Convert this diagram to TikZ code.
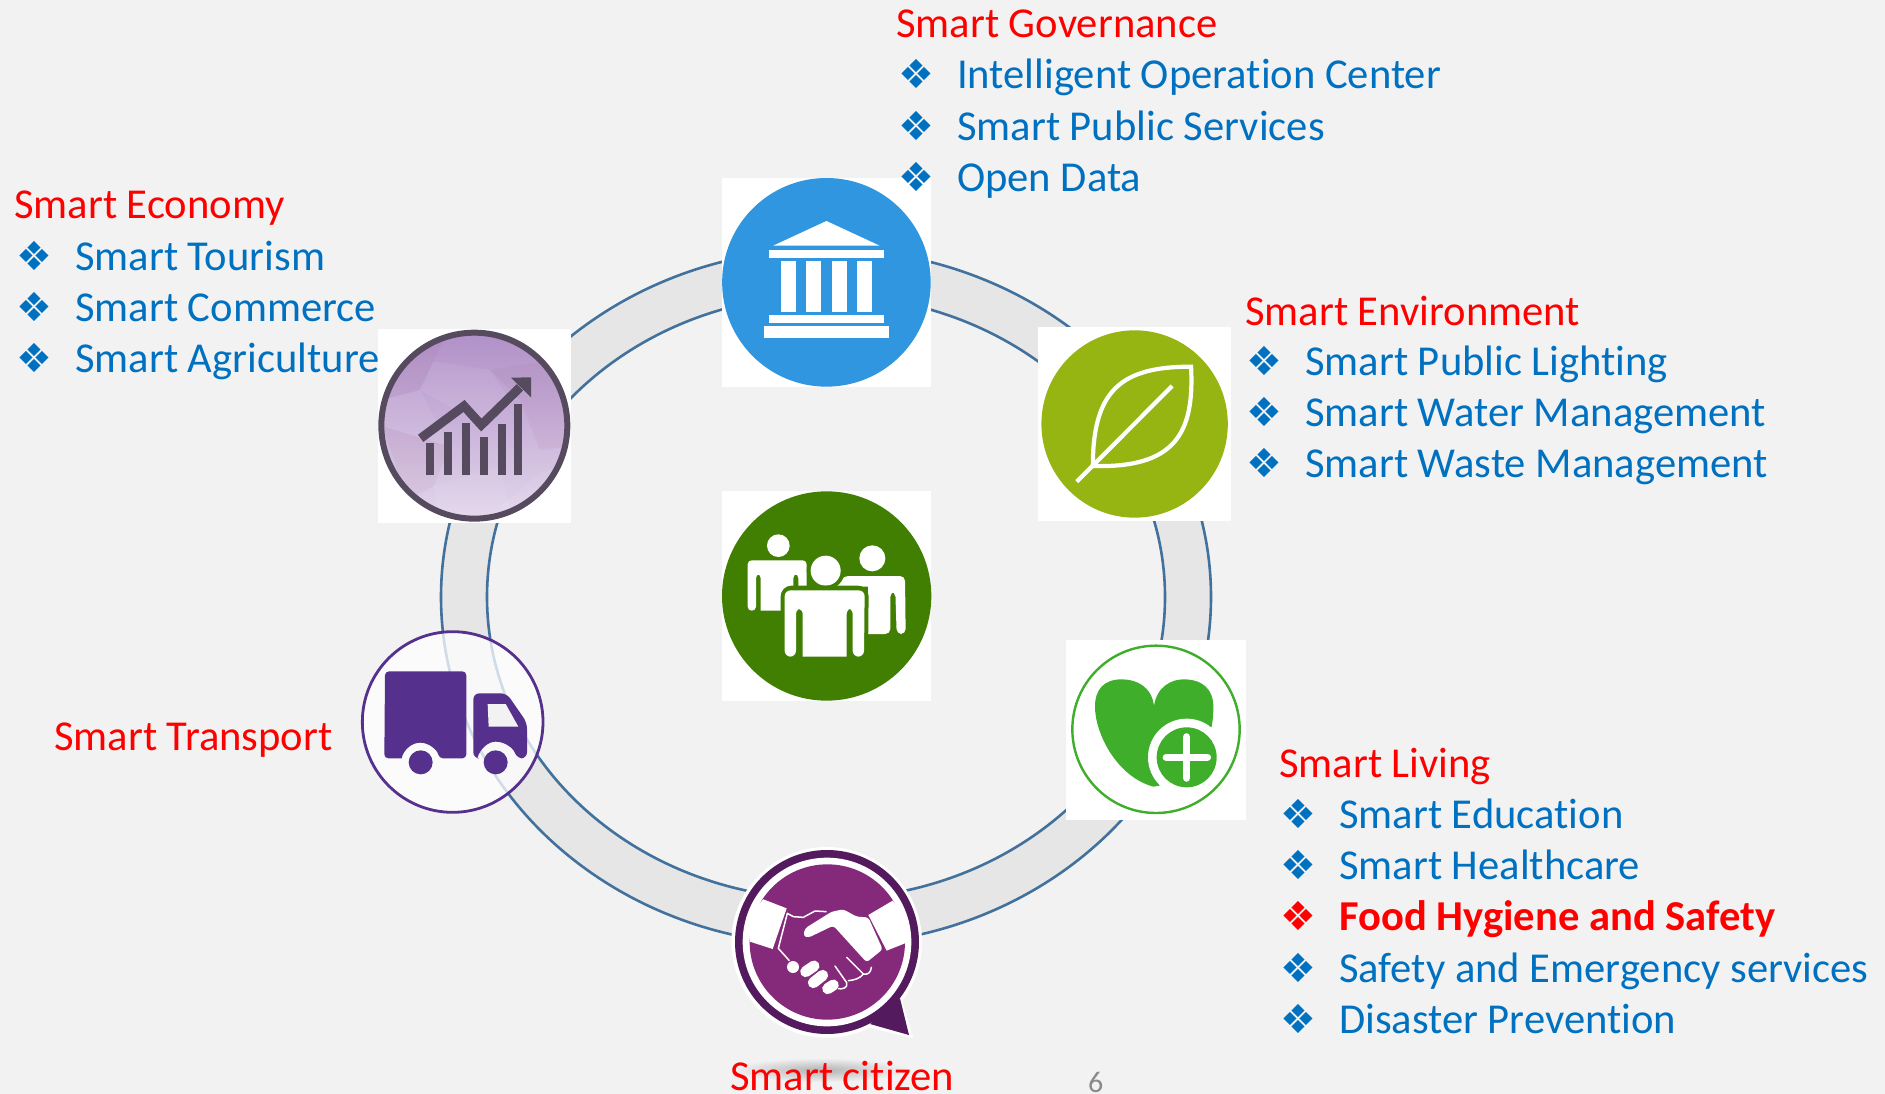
\documentclass[tikz,border=0pt]{standalone}
\usepackage{fontspec}
\setmainfont{Carlito}[Ligatures=NoCommon]
\newfontfamily\bulletfont{DejaVu Sans}
\usetikzlibrary{shadings}
\definecolor{pagebg}{HTML}{F2F2F2}
\definecolor{ringfill}{HTML}{E6E6E6}
\definecolor{ringline}{HTML}{41719C}
\definecolor{txtblue}{HTML}{0070C0}
\definecolor{txtred}{HTML}{FF0000}
\definecolor{bankblue}{HTML}{2F96DF}
\definecolor{leafgreen}{HTML}{96B513}
\definecolor{peoplegreen}{HTML}{417F03}
\definecolor{healthgreen}{HTML}{3FAE2A}
\definecolor{truckpurple}{HTML}{55308D}
\definecolor{citizendark}{HTML}{541A5E}
\definecolor{citizenpurple}{HTML}{852A7A}
\definecolor{chartdark}{HTML}{564A5F}
\definecolor{charttop}{HTML}{B08FC8}
\definecolor{chartbottom}{HTML}{E4D8EC}
\tikzset{
  x=1pt,y=-1pt,
  title/.style={anchor=base west,inner sep=0pt,text=txtred,font=\fontsize{42.6}{50}\selectfont},
  entry/.style={anchor=base west,inner sep=0pt,text=txtblue,font=\fontsize{42.6}{50}\selectfont},
  hot/.style={anchor=base west,inner sep=0pt,text=txtred,font=\fontsize{42.6}{50}\selectfont\bfseries},
  bul/.style={anchor=base west,inner sep=0pt,text=txtblue,font=\bulletfont\fontsize{40}{48}\selectfont},
  hotbul/.style={bul,text=txtred},
  ringedge/.style={draw=ringline,line width=2.6pt},
  facet/.style={fill=white,fill opacity=.07},
  facetd/.style={fill=chartdark!60!purple,fill opacity=.05},
}
\newcommand{\listline}[5]{% name, bullet x, text x, baseline y, text
  \node[bul] (#1b) at (#2,#4) {❖};
  \node[entry] (#1) at (#3,#4) {#5};
}
\begin{document}
\begin{tikzpicture}
\useasboundingbox (0,0) rectangle (1885,1094);
\fill[pagebg] (0,0) rectangle (1885,1094);

% ring
\fill[ringfill,even odd rule] (826,597) ellipse [x radius=385,y radius=348] (826,597) ellipse [x radius=339,y radius=302];
\draw[ringedge] (826,597) ellipse [x radius=385,y radius=348];
\draw[ringedge] (826,597) ellipse [x radius=339,y radius=302];

% governance icon
\begin{scope}[shift={(700,160)},xscale=1/2.8,yscale=1/3]
  \fill[white] (62,54) rectangle (647,680);
  \fill[bankblue] (354,367) ellipse [x radius=292,y radius=313];
  \fill[white] (205,257) -- (354,183) -- (503,257) -- cycle;
  \fill[white] (194,270) rectangle (514,295);
  \foreach \c in {228,298,369,440} \fill[white] (\c,303) rectangle (\c+42,455);
  \fill[white] (194,465) rectangle (514,489);
  \fill[white] (178,497) rectangle (530,535);
  % environment icon
  \fill[white] (946,501) rectangle (1487,1082);
  \fill[leafgreen] (1217,792) ellipse [x radius=261,y radius=281];
  \draw[white,line width=4.2pt,line join=miter] (1375,620) .. controls (1180,620) and (1100,690) .. (1100,918) .. controls (1330,925) and (1385,820) .. (1375,620) -- cycle;
  \draw[white,line width=4.2pt] (1055,965) -- (1322,678);
\end{scope}

% economy icon
\begin{scope}[shift={(340,300)},scale=1/3]
  \fill[white] (114,86) rectangle (693,668);
  \begin{scope}
    \clip (403,377) circle [radius=285];
    \shade[top color=charttop,bottom color=chartbottom] (100,90) rectangle (700,670);
    \fill[facet] (280,185) -- (450,210) -- (510,300) -- (420,370) -- (240,270) -- cycle;
    \fill[facetd] (130,150) -- (320,100) -- (280,185) -- (240,270) -- (130,300) -- cycle;
    \fill[facetd] (450,210) -- (640,180) -- (690,300) -- (540,300) -- cycle;
    \fill[facet] (240,270) -- (330,440) -- (130,380) -- (120,300) -- cycle;
    \fill[facetd] (540,300) -- (690,300) -- (680,440) -- (600,450) -- cycle;
    \fill[facet] (280,560) -- (480,500) -- (520,660) -- (300,670) -- cycle;
    \fill[facet] (480,620) -- (600,520) -- (660,500) -- (600,660) -- cycle;
    \fill[facetd] (130,380) -- (330,440) -- (280,560) -- (200,600) -- cycle;
  \end{scope}
  \draw[chartdark,line width=6pt] (403,377) circle [radius=279];
  \fill[chartdark] (257,428) rectangle (281,525);
  \fill[chartdark] (311,397) rectangle (335,525);
  \fill[chartdark] (366,368) rectangle (390,525);
  \fill[chartdark] (421,412) rectangle (445,525);
  \fill[chartdark] (475,373) rectangle (499,525);
  \fill[chartdark] (521,311) rectangle (545,525);
  \draw[chartdark,line width=9pt,line join=miter] (242,415) -- (372,318) -- (424,375) -- (540,262);
  \fill[chartdark] (513,233) -- (573,232) -- (573,292) -- cycle;
\end{scope}

% transport icon
\begin{scope}[shift={(340,610)},scale=1/3]
  \fill[white,fill opacity=.75] (338,336) circle [radius=272];
  \draw[truckpurple,line width=2.8pt] (338,336) circle [radius=271];
  \fill[truckpurple,rounded corners=4pt] (185,445) -- (133,445) -- (135,184) -- (379,184) -- (379,445) -- (297,445) [sharp corners] .. controls (292,420) and (267,398) .. (241,398) .. controls (215,398) and (190,420) .. (185,445) -- cycle;
  \fill[truckpurple] (242,457) circle [radius=36];
  \fill[truckpurple,rounded corners=6pt] (412,445) -- (400,445) -- (400,250) -- (500,250) -- (561,338) -- (561,445) -- (530,445) [sharp corners] .. controls (520,415) and (495,395) .. (467,395) .. controls (445,395) and (420,415) .. (412,445) -- cycle;
  \fill[pagebg] (443,282) -- (497,282) -- (535,350) -- (446,350) -- cycle;
  \fill[truckpurple] (467,457) circle [radius=36];
\end{scope}

% citizen icon
\begin{scope}[shift={(700,830)},scale=1/3]
  \fill[white] (380,337) circle [radius=286];
  \fill[white] (600,490) -- (640,625) -- (500,590) -- cycle;
  \fill[citizendark] (381,336) circle [radius=276];
  \fill[citizendark] (600,505) -- (627,615) -- (510,582) -- cycle;
  \fill[white] (381,336) circle [radius=253];
  \fill[citizenpurple] (382,336) circle [radius=233];
  \fill[white] (190,208) -- (260,235) -- (218,357) -- (150,335) -- (140,260) -- cycle;
  \fill[white] (505,255) -- (578,212) -- (625,270) -- (615,340) -- (560,362) -- cycle;
  \fill[white,rounded corners=3pt] (310,318) -- (315,295) -- (395,245) -- (430,238) -- (470,260) -- (505,262) -- (548,358) -- (500,397) -- (400,287) -- (325,323) -- cycle;
  \draw[white,line width=1.5pt,line join=round] (380,245) -- (345,243) -- (310,262) -- (280,260) -- (262,250) -- (235,355) -- (268,392);
  \fill[white] (279,411) circle [radius=18];
  \draw[white,line width=11pt,line cap=round] (317,425) -- (342,408);
  \draw[white,line width=11pt,line cap=round] (340,458) -- (368,436);
  \draw[white,line width=11pt,line cap=round] (383,476) -- (400,465);
  \draw[white,line width=1.5pt,line join=round,line cap=round] (405,408) -- (440,458) .. controls (445,475) and (425,478) .. (415,476);
  \draw[white,line width=1.5pt,line join=round,line cap=round] (440,382) -- (490,432) .. controls (480,445) and (465,450) .. (445,452);
  \draw[white,line width=1.5pt,line cap=round] (490,432) .. controls (505,436) and (513,425) .. (514,412);
\end{scope}

% living icon
\begin{scope}[shift={(1040,620)},scale=1/3]
  \fill[white] (78,60) rectangle (618,600);
  \draw[healthgreen,line width=2.4pt] (348,328) circle [radius=251];
  \fill[healthgreen] (342,258) .. controls (335,200) and (290,178) .. (245,178) .. controls (190,178) and (165,210) .. (165,260) .. controls (165,340) and (230,470) .. (340,500) -- (358,497) -- (515,320) .. controls (520,290) and (520,275) .. (520,260) .. controls (520,210) and (490,178) .. (430,178) .. controls (395,178) and (350,200) .. (342,258) -- cycle;
  \fill[white] (440,412) circle [radius=116];
  \fill[healthgreen] (440,412) circle [radius=90];
  \draw[white,line width=7.6pt,line cap=round] (379,412) -- (502,412);
  \draw[white,line width=7.6pt,line cap=round] (440,351) -- (440,474);
\end{scope}

% central people icon
\begin{scope}[shift={(710,480)},scale=1/3]
  \fill[white] (36,33) rectangle (663,663);
  \fill[peoplegreen] (350,348) circle [radius=314];
  \fill[white] (205,197) circle [radius=34];
  \fill[white,rounded corners=4pt] (152,392) [rounded corners=4pt] -- (152,282) -- (138,282) -- (138,392) -- (113,392) -- (113,241) -- (290,241) -- (290,392) -- (265,392) -- (265,282) -- (250,282) -- (250,392) [sharp corners] -- cycle;
  \fill[white] (487,235) circle [radius=39];
  \fill[white,rounded corners=4pt] (380,320) [rounded corners=5pt] -- (400,288) -- (585,288) -- (587,462) -- (560,462) -- (556,335) -- (541,335) -- (541,462) [sharp corners] -- (474,462) -- (474,320) -- cycle;
  \fill[peoplegreen] (347,272) circle [radius=57];
  \fill[white] (347,272) circle [radius=45];
  \draw[peoplegreen,line width=8pt,rounded corners=7pt] (224,531) -- (224,329) -- (464,329) -- (462,531);
  \fill[white,rounded corners=6pt] (278,530) -- (278,384) -- (258,384) -- (258,530) -- (224,530) -- (224,331) -- (464,331) -- (462,530) -- (428,530) -- (428,384) -- (410,384) [sharp corners] -- (410,530) -- cycle;
\end{scope}

% shadow under citizen label
\shade[inner color=black!30,outer color=pagebg] (820,1070) ellipse [x radius=88,y radius=12];

% labels
\node[title] (gov) at (896,38) {Smart Governance};
\listline{g1}{898}{957}{89}{Intelligent Operation Center}
\listline{g2}{898}{957}{140.5}{Smart Public Services}
\listline{g3}{898}{957}{192}{Open Data}

\node[title] (eco) at (14,219) {Smart Economy};
\listline{e1}{16}{75}{270}{Smart Tourism}
\listline{e2}{16}{75}{321}{Smart Commerce}
\listline{e3}{16}{75}{372}{Smart Agriculture}

\node[title] (env) at (1245,325) {Smart Environment};
\listline{v1}{1246}{1305}{375}{Smart Public Lighting}
\listline{v2}{1246}{1305}{426}{Smart Water Management}
\listline{v3}{1246}{1305}{477}{Smart Waste Management}

\node[title] (tra) at (54,750) {Smart Transport};

\node[title] (liv) at (1279,777) {Smart Living};
\listline{l1}{1280}{1339}{828}{Smart Education}
\listline{l2}{1280}{1339}{879}{Smart Healthcare}
\node[hotbul] (l3b) at (1280,930) {❖};
\node[hot] (l3) at (1339,930) {Food Hygiene and Safety};
\listline{l4}{1280}{1339}{982}{Safety and Emergency services}
\listline{l5}{1280}{1339}{1033}{Disaster Prevention}

\node[title] (cit) at (730,1090) {Smart citizen};
\node[anchor=base west,inner sep=0pt,text=black!46,font=\fontsize{30}{36}\selectfont] (pg) at (1088,1092) {6};
\end{tikzpicture}
\end{document}
